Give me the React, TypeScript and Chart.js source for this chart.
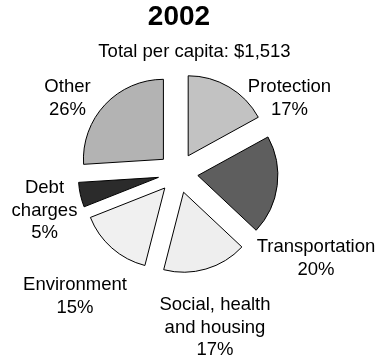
import React, { useEffect, useRef } from "react";
import { Chart, registerables } from "chart.js";

Chart.register(...registerables);

const categories = ["Protection", "Transportation", "Social, health and housing", "Environment", "Debt charges", "Other"];
const labelLines = [["Protection"], ["Transportation"], ["Social, health", "and housing"], ["Environment"], ["Debt", "charges"], ["Other"]];
const values = [17, 20, 17, 15, 5, 26];
const colors = ["#c2c2c2", "#5e5e5e", "#eeeeee", "#f0f0f0", "#2b2b2b", "#b3b3b3"];
const titleText = "2002";
const subtitleText = "Total per capita: $1,513";

// label anchor: [center x, first baseline y]
const labelAnchors: [number, number][] = [
  [289.5, 92],
  [316, 252],
  [215, 310],
  [75, 290],
  [44.5, 193],
  [67.5, 92],
];

const EXPLODE = 20;
const FONT = '"Liberation Sans", Arial, Helvetica, sans-serif';

const explodePlugin = {
  id: "explodePlugin",
  beforeDatasetDraw(chart: any, args: any) {
    const ctx = chart.ctx;
    const meta = args.meta;
    meta.data.forEach((arc: any) => {
      const mid = (arc.startAngle + arc.endAngle) / 2;
      ctx.save();
      ctx.translate(Math.cos(mid) * EXPLODE, Math.sin(mid) * EXPLODE);
      arc.draw(ctx);
      ctx.restore();
    });
    return false;
  },
  afterDraw(chart: any) {
    const ctx = chart.ctx;
    ctx.save();
    ctx.fillStyle = "#000";
    ctx.textAlign = "center";
    ctx.textBaseline = "alphabetic";
    ctx.font = `bold 28px ${FONT}`;
    ctx.fillText(titleText, 179, 25);
    ctx.font = `18.5px ${FONT}`;
    ctx.fillText(subtitleText, 194.5, 57);
    labelLines.forEach((lines, i) => {
      const all = [...lines, `${values[i]}%`];
      const [x, y] = labelAnchors[i];
      all.forEach((t, j) => ctx.fillText(t, x, y + j * 22.6));
    });
    ctx.restore();
  },
};

export default function App() {
  const ref = useRef<HTMLCanvasElement | null>(null);
  useEffect(() => {
    if (!ref.current) return;
    const chart = new Chart(ref.current, {
      type: "pie",
      data: {
        labels: categories,
        datasets: [
          {
            data: values,
            backgroundColor: colors,
            borderColor: "#000",
            borderWidth: 1,
          },
        ],
      },
      options: {
        responsive: false,
        animation: false,
        devicePixelRatio: 1,
        radius: 80,
        layout: { padding: { left: 78, right: 106, top: 73, bottom: 88 } },
        plugins: { legend: { display: false }, tooltip: { enabled: false }, title: { display: false } },
      } as any,
      plugins: [explodePlugin],
    });
    return () => chart.destroy();
  }, []);
  return (
    <div style={{ position: "fixed", left: 0, top: 0, width: 384, height: 361, background: "#fff" }}>
      <canvas ref={ref} width={384} height={361} style={{ width: 384, height: 361, display: "block" }} />
    </div>
  );
}
